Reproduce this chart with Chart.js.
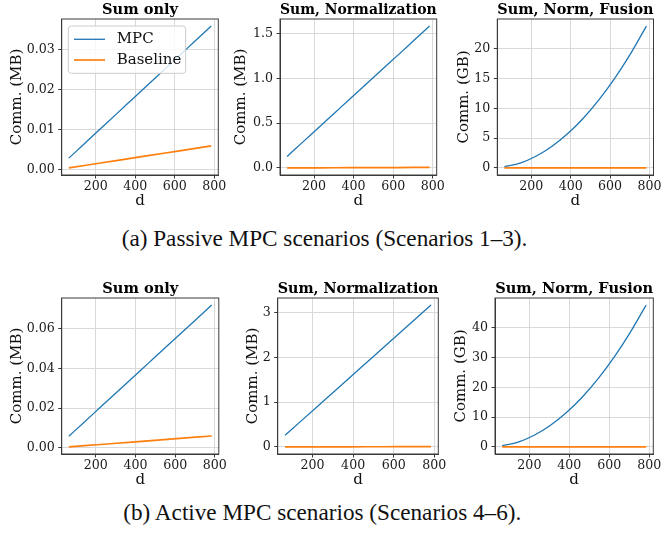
<!DOCTYPE html>
<html><head><meta charset="utf-8">
<script src="https://cdn.jsdelivr.net/npm/chart.js@4.4.0/dist/chart.umd.min.js"></script>
<style>
html,body{margin:0;padding:0;background:#fff;width:661px;height:539px;overflow:hidden;position:relative}
canvas{position:absolute}
.cap{position:absolute;font-family:"Liberation Serif","Times New Roman",serif;font-size:23.2px;line-height:23.2px;white-space:nowrap;color:#111}
</style></head><body>
<div class="cap" style="left:121.7px;top:227.3px">(a) Passive MPC scenarios (Scenarios 1–3).</div>
<div class="cap" style="left:123.3px;top:501.3px">(b) Active MPC scenarios (Scenarios 4–6).</div>
<script>
// ---- data ----
const dVals = [64, 144, 224, 304, 384, 464, 544, 624, 704, 784];
const seriesNames = ['MPC', 'Baseline'];
const panelTitles = ['Sum only', 'Sum, Normalization', 'Sum, Norm, Fusion'];
const yLabels = ['Comm. (MB)', 'Comm. (MB)', 'Comm. (GB)'];
const xLabel = 'd';
const xTicks = [200, 400, 600, 800];

const passiveSumMPC    = [0.00293, 0.00659, 0.01025, 0.01392, 0.01758, 0.02124, 0.02490, 0.02856, 0.03223, 0.03589];
const passiveSumBase   = [0.00049, 0.00110, 0.00171, 0.00232, 0.00293, 0.00354, 0.00415, 0.00476, 0.00537, 0.00598];
const passiveNormMPC   = [0.129, 0.291, 0.452, 0.614, 0.776, 0.937, 1.099, 1.260, 1.422, 1.584];
const passiveNormBase  = [0.00049, 0.00110, 0.00171, 0.00232, 0.00293, 0.00354, 0.00415, 0.00476, 0.00537, 0.00598];
const passiveFusionMPC = [0.20, 0.81, 1.95, 3.59, 5.72, 8.34, 11.46, 15.07, 19.18, 23.79];
const passiveFusionBase= [0.0000005, 0.0000011, 0.0000017, 0.0000023, 0.0000029, 0.0000035, 0.0000041, 0.0000046, 0.0000052, 0.0000058];

const activeSumMPC     = [0.00586, 0.01318, 0.02051, 0.02783, 0.03516, 0.04248, 0.04980, 0.05713, 0.06445, 0.07178];
const activeSumBase    = [0.00049, 0.00110, 0.00171, 0.00232, 0.00293, 0.00354, 0.00415, 0.00476, 0.00537, 0.00598];
const activeNormMPC    = [0.259, 0.582, 0.905, 1.228, 1.552, 1.875, 2.198, 2.521, 2.844, 3.167];
const activeNormBase   = [0.00049, 0.00110, 0.00171, 0.00232, 0.00293, 0.00354, 0.00415, 0.00476, 0.00537, 0.00598];
const activeFusionMPC  = [0.40, 1.62, 3.90, 7.18, 11.44, 16.68, 22.92, 30.14, 38.36, 47.58];
const activeFusionBase = [0.0000010, 0.0000021, 0.0000033, 0.0000045, 0.0000057, 0.0000069, 0.0000081, 0.0000093, 0.0000105, 0.0000117];

// ---- style ----
const SERIF = "'DejaVu Serif', serif";
const BLUE = '#1f77b4', ORANGE = '#ff7f0e';
const GRID = '#d9d9d9', FRAME = '#3a3a3a';

const framePlugin = {
  id: 'frame',
  afterDatasetsDraw(chart) {
    const {ctx, chartArea: a} = chart;
    ctx.save();
    ctx.strokeStyle = FRAME; ctx.lineWidth = 1;
    ctx.strokeRect(a.left, a.top, a.right - a.left, a.bottom - a.top);
    ctx.restore();
  }
};
const boxLegend = {
  id: 'boxLegend',
  afterDatasetsDraw(chart, args, opts) {
    if (!opts || !opts.show) return;
    const {ctx, chartArea: a} = chart;
    const x0 = a.left + 6.6, y0 = a.top + 7, w = 117.4, h = 47.3;
    ctx.save();
    ctx.beginPath();
    ctx.roundRect(x0, y0, w, h, 3);
    ctx.fillStyle = 'rgba(255,255,255,0.8)';
    ctx.fill();
    ctx.strokeStyle = '#cccccc'; ctx.lineWidth = 1; ctx.stroke();
    const rows = [a.top + 20.3, a.top + 41];
    chart.data.datasets.forEach((ds, i) => {
      ctx.beginPath();
      ctx.strokeStyle = ds.borderColor; ctx.lineWidth = ds.borderWidth;
      ctx.moveTo(a.left + 12.3, rows[i]); ctx.lineTo(a.left + 43.3, rows[i]);
      ctx.stroke();
      ctx.fillStyle = '#111';
      ctx.font = '15px ' + SERIF;
      ctx.textBaseline = 'middle'; ctx.textAlign = 'left';
      ctx.fillText(ds.label, a.left + 55, rows[i]);
    });
    ctx.restore();
  }
};

function limits(arrs) {
  let lo = Infinity, hi = -Infinity;
  arrs.forEach(a => a.forEach(v => { lo = Math.min(lo, v); hi = Math.max(hi, v); }));
  const m = (hi - lo) * 0.05;
  return [lo - m, hi + m];
}

function panel(p) {
  const left = Math.floor(p.L) - 60;
  const W = p.L - left;
  const RP = 20;
  const width = Math.ceil(W + (p.R - p.L) + RP);
  const rp = width - W - (p.R - p.L);
  const H = 45, TOP = 19, PH = p.B - p.T;
  const height = Math.round(TOP + PH + H);
  const c = document.createElement('canvas');
  c.width = width; c.height = height;
  c.style.left = left + 'px'; c.style.top = (p.T - TOP) + 'px';
  c.style.width = width + 'px'; c.style.height = height + 'px';
  document.body.appendChild(c);
  const [xmin, xmax] = limits([dVals]);
  const [ymin, ymax] = limits([p.mpc, p.base]);
  const mk = arr => dVals.map((x, i) => ({x, y: arr[i]}));
  new Chart(c, {
    type: 'line',
    data: {datasets: [
      {label: seriesNames[0], data: mk(p.mpc), borderColor: BLUE, borderWidth: 1.3, pointRadius: 0, cubicInterpolationMode: 'monotone', order: 1},
      {label: seriesNames[1], data: mk(p.base), borderColor: ORANGE, borderWidth: 1.7, pointRadius: 0, tension: 0, order: 0}
    ]},
    plugins: [framePlugin, boxLegend],
    options: {
      responsive: false, animation: false, devicePixelRatio: 1,
      layout: {padding: {left: 0, right: rp, top: 0, bottom: 0}},
      plugins: {
        legend: {display: false}, tooltip: {enabled: false},
        title: {display: true, text: p.title, fullSize: false, color: '#000',
          font: {family: SERIF, size: 14.6, weight: 'bold', lineHeight: 1.2},
          padding: {top: 1, bottom: TOP - 1 - 14.6 * 1.2}},
        boxLegend: {show: !!p.legend}
      },
      scales: {
        x: {type: 'linear', min: xmin, max: xmax,
          afterBuildTicks: s => { s.ticks = xTicks.map(v => ({value: v})); },
          ticks: {font: {family: SERIF, size: 12.6}, color: '#1a1a1a', padding: 1, maxRotation: 0, autoSkip: false,
            callback: v => String(v)},
          grid: {color: GRID, tickColor: FRAME, tickLength: 3.5, lineWidth: 1},
          border: {color: FRAME, width: 1},
          title: {display: true, text: xLabel, color: '#111', font: {family: SERIF, size: 15, lineHeight: 1.2}, padding: {top: 0, bottom: 9.5}},
          afterFit: s => { s.height = H; s.paddingLeft = 0; s.paddingRight = 0; }
        },
        y: {type: 'linear', min: ymin, max: ymax,
          ticks: {stepSize: p.step, includeBounds: false, font: {family: SERIF, size: 12.6}, color: '#1a1a1a', padding: 3.5,
            callback: v => Number(v).toFixed(p.dec)},
          grid: {color: GRID, tickColor: FRAME, tickLength: 3.5, lineWidth: 1},
          border: {color: FRAME, width: 1},
          title: {display: true, text: p.ylab, color: '#111', font: {family: SERIF, size: 15, lineHeight: 1.2}, padding: {top: (W + p.yt) - 9, bottom: 0}},
          afterFit: s => { s.width = W; s.paddingTop = 0; s.paddingBottom = 0; }
        }
      }
    }
  });
}

panel({L: 61.7, R: 218.3, T: 19, B: 175, title: panelTitles[0], ylab: yLabels[0], mpc: passiveSumMPC, base: passiveSumBase, step: 0.01, dec: 2, yt: -45, legend: true});
panel({L: 280, R: 436.7, T: 19, B: 175, title: panelTitles[1], ylab: yLabels[1], mpc: passiveNormMPC, base: passiveNormBase, step: 0.5, dec: 1, yt: -38.5});
panel({L: 497.3, R: 653.5, T: 19, B: 175, title: panelTitles[2], ylab: yLabels[2], mpc: passiveFusionMPC, base: passiveFusionBase, step: 5, dec: 0, yt: -33.6});
panel({L: 61.7, R: 218.8, T: 298.3, B: 454.3, title: panelTitles[0], ylab: yLabels[0], mpc: activeSumMPC, base: activeSumBase, step: 0.02, dec: 2, yt: -45});
panel({L: 277.7, R: 438.3, T: 298.3, B: 454.3, title: panelTitles[1], ylab: yLabels[1], mpc: activeNormMPC, base: activeNormBase, step: 1, dec: 0, yt: -24.7});
panel({L: 495, R: 653.3, T: 298.3, B: 454.3, title: panelTitles[2], ylab: yLabels[2], mpc: activeFusionMPC, base: activeFusionBase, step: 10, dec: 0, yt: -34});
</script>
</body></html>
